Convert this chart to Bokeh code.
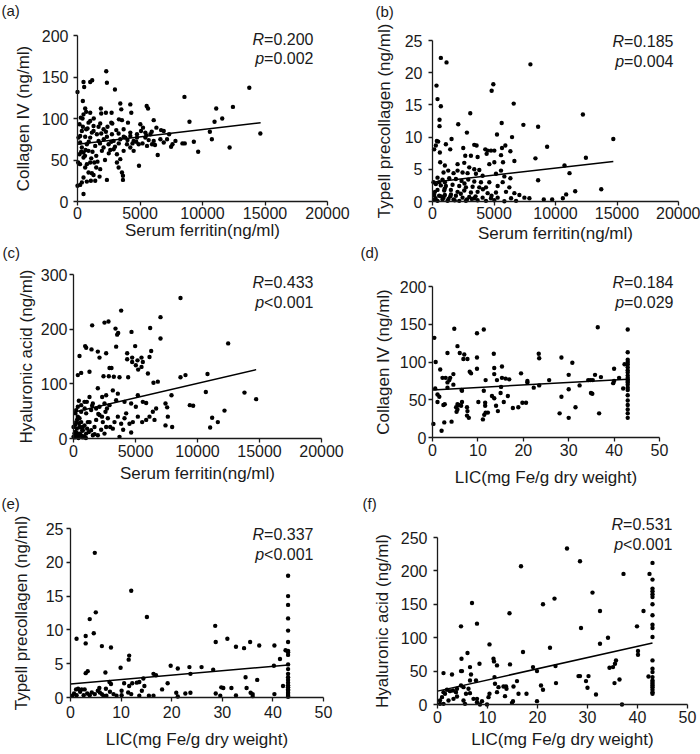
from bokeh.plotting import figure
from bokeh.models import Range1d, FixedTicker, Label
from bokeh.layouts import column, row
from bokeh.embed import file_html
from bokeh.resources import INLINE

# ---------------- data ----------------
# (a) Serum ferritin vs Collagen IV
a_ferritin = [2300, 2353, 481, 535, 1016, 1177, 0, 2995, 428, 615,
              695, 481, 1872, 1899, 2273, 2727, 3423, 3503, 4225, 4305,
              5535, 5642, 8557, 13744, 11097, 12434, 11578, 10963, 8958, 6097,
              3316, 3556, 4038, 2701, 2781, 1818, 1016, 882, 428, 348,
              695, 1284, 2086, 2273, 3102, 3690, 5027, 5241, 5081, 6311,
              6685, 5936, 7327, 10589, 14627, 10749, 7835, 8396, 8583, 9306,
              7487, 9653, 12167, 6418, 4920, 3690, 3155, 2620, 2086, 1417,
              749, 214, 80, 160, 53, 481, 749, 1016, 615, 1337,
              1497, 1818, 882, 1150, 1284, 1765, 481, 348, 749, 1070,
              1417, 2353, 0, 214, 481, 3155, 3289, 3556, 3637, 3637,
              3423, 4225, 4492, 4760, 4225, 3824, 3423, 2888, 2487, 1685,
              1016, 615, 5428, 5696, 6097, 6632, 5963, 5562, 4893, 4492,
              2888, 1952, 2353, 2754, 3289, 4225, 4760, 5428, 1551, 1150,
              214, 348, 882, 481, 160, 267, 1016, 1284, 1685, 3958,
              7166, 6899, 5829,
              300, 600, 900, 1200, 1500, 1800, 2100, 400, 800, 1300,
              200, 1600, 2500, 2700, 3000, 3300, 3700, 4000, 4400, 4700,
              5200, 5500, 6200, 6900, 7600, 650, 1100, 1900, 2200, 2400]
a_col4 = [157, 143, 144, 138, 144, 146, 132, 135, 121, 112,
          108, 105, 112, 106, 107, 107, 118, 111, 117, 107,
          115, 112, 126, 137, 112, 114, 100, 96, 96, 98,
          99, 98, 95, 95, 94, 94, 97, 95, 90, 85,
          87, 85, 87, 84, 86, 87, 93, 89, 85, 89,
          86, 84, 81, 84, 82, 75, 73, 70, 70, 72,
          66, 60, 65, 56, 43, 61, 57, 62, 65, 67,
          69, 71, 77, 57, 47, 53, 45, 47, 41, 47,
          41, 39, 35, 34, 32, 30, 29, 23, 24, 25,
          25, 26, 19, 20, 9, 47, 41, 35, 31, 26,
          51, 65, 73, 77, 79, 77, 75, 73, 69, 73,
          77, 78, 77, 74, 73, 75, 69, 67, 69, 61,
          63, 61, 78, 81, 82, 83, 81, 83, 81, 83,
          79, 65, 61, 59, 93, 101, 107, 91, 90, 69,
          75, 85, 81,
          60, 55, 72, 60, 55, 70, 75, 100, 88, 100,
          45, 48, 58, 72, 66, 70, 78, 74, 70, 72,
          70, 80, 68, 71, 69, 62, 52, 82, 50, 90]
a_fit_x = [0, 14650]
a_fit_y = [69, 95]

# (b) Serum ferritin vs Type III precollagen
b_ferritin = [679, 1141, 7961, 326, 4945, 4809, 408, 679, 571, 571,
              6602, 12227, 3070, 2092, 5624, 7390, 8586, 2798, 5244, 6467,
              353, 272, 462, 1087, 1549, 9319, 14699, 3396, 3586, 5923,
              5651, 4293, 4484, 4755, 5027, 598, 1440, 2500, 6331, 8369,
              12471, 2663, 3124, 3668, 4402, 5570, 6657, 625, 1005, 2038,
              2581, 2988, 3396, 3804, 4619, 5027, 5733, 5570, 10732, 11140,
              8586, 897, 1277, 1712, 2038, 2445, 2853, 3532, 4076, 5162,
              5842, 408, 815, 1359, 1902, 2364, 2907, 3396, 3940, 4619,
              5705, 6331, 272, 679, 1087, 1630, 2174, 2717, 3260, 3804,
              4347, 5298, 6249, 408, 951, 1494, 2038, 2581, 3124, 3668,
              4483, 5162, 5977, 6657, 7064, 11601, 13720, 10868, 136, 543,
              1005, 1440, 1902, 2445, 2988, 3396, 4076, 4755, 5298, 6386,
              7472, 7879, 9048, 9727, 10597, 136, 408, 815, 1223, 1712,
              2174, 2717, 3668, 4347, 5027, 5842, 6793, 82, 136, 543,
              1005,
              250, 700, 1300, 1800, 2300, 2800, 1000, 1500, 3500, 4100,
              4800, 200, 900, 2600, 3200]
b_pc3 = [22.3, 21.6, 21.3, 18.0, 18.2, 17.2, 15.9, 14.8, 12.7, 11.7,
         15.2, 13.5, 13.7, 12.0, 12.2, 11.9, 11.6, 10.7, 10.4, 10.0,
         9.4, 8.7, 9.3, 8.9, 9.7, 8.5, 9.7, 8.8, 8.7, 8.7,
         8.3, 8.1, 7.9, 7.9, 7.9, 7.6, 8.1, 8.3, 7.8, 6.7,
         6.8, 7.1, 7.1, 6.9, 7.4, 7.2, 6.3, 6.1, 5.6, 5.8,
         6.0, 5.3, 5.0, 4.9, 5.8, 6.1, 6.1, 4.8, 5.6, 4.4,
         3.3, 4.5, 4.8, 4.4, 4.8, 4.5, 4.4, 4.3, 4.0, 4.3,
         3.9, 3.7, 3.4, 3.6, 3.5, 3.2, 3.4, 3.1, 3.0, 3.0,
         3.0, 3.6, 2.7, 2.5, 2.4, 2.6, 2.4, 2.2, 2.3, 2.2,
         2.2, 2.4, 2.2, 1.8, 1.7, 1.8, 1.5, 1.7, 1.4, 1.5,
         1.3, 1.4, 1.5, 1.3, 1.0, 1.6, 1.9, 1.1, 1.0, 0.9,
         1.0, 0.8, 0.9, 0.6, 0.7, 0.5, 0.6, 0.5, 0.6, 0.5,
         0.6, 0.5, 0.3, 0.3, 0.5, 0.3, 0.1, 0.3, 0.1, 0.3,
         0.1, 0.1, 0.2, 0.1, 0.2, 0.05, 0.1, 3.0, 8.1, 3.0,
         3.0,
         0.5, 0.8, 0.4, 0.2, 1.2, 0.3, 2.0, 1.1, 0.8, 1.9,
         0.9, 1.5, 0.6, 2.8, 0.4]
b_fit_x = [0, 14700]
b_fit_y = [3.0, 6.2]

# (c) Serum ferritin vs Hyaluronic acid
c_ferritin = [8628, 3844, 7016, 7016, 1505, 2500, 2822, 3387, 3602, 3521,
              4677, 6183, 12472, 484, 941, 1021, 1452, 1962, 2097, 2634,
              3440, 4328, 4328, 4973, 4731, 4731, 5161, 5484, 5591, 5027,
              5215, 5484, 6264, 6129, 6000, 6451, 6800, 2903, 3064, 2419,
              2849, 3252, 3710, 4408, 618, 349, 1290, 8628, 9031, 10806,
              10672, 13790, 14731, 9381, 9650, 7903, 7419, 7553, 12177, 11182,
              11639, 11021, 7607, 7419, 7956, 6666, 6397, 6532, 6129, 5860,
              5537, 5188, 4785, 4516, 4650, 4113, 3844, 3575, 3306, 3710,
              3172, 2634, 2769, 2365, 2097, 1828, 1693, 2500, 1962, 1425,
              1559, 1021, 753, 484, 215, 349, 618, 887, 161, 269,
              484, 887, 1156, 618, 349, 161, 618, 1021, 1425, 1828,
              2097, 1559, 1075, 618, 349, 2312, 1962, 2634, 3172, 3575,
              4113, 4650, 5188, 5591, 5860, 5027, 3440, 2903, 2500, 1290,
              887, 430, 215, 0, 0, 80, 753, 1236, 2231, 2957,
              4005, 2580, 4247, 215, 484,
              100, 250, 400, 550, 700, 850, 1000, 150, 300, 450,
              600, 750, 1100, 1300, 1700, 2000, 2300, 2700, 1500, 900]
c_ha = [257, 234, 222, 183, 207, 212, 214, 201, 193, 190,
        195, 202, 174, 151, 169, 166, 163, 159, 148, 156,
        168, 156, 145, 169, 148, 140, 143, 148, 140, 134,
        126, 131, 160, 149, 119, 102, 104, 129, 129, 114,
        114, 113, 112, 112, 120, 116, 122, 112, 116, 118,
        85, 84, 72, 61, 60, 79, 64, 57, 51, 38,
        30, 20, 40, 24, 21, 55, 49, 34, 40, 34,
        30, 40, 30, 27, 11, 37, 27, 40, 30, 3,
        18, 21, 37, 30, 43, 34, 21, 9, 6, 15,
        6, 9, 15, 9, 6, 3, 5, 3, 12, 18,
        21, 24, 30, 30, 40, 46, 49, 46, 52, 55,
        58, 64, 67, 61, 58, 76, 92, 79, 88, 82,
        67, 64, 79, 67, 65, 58, 70, 61, 64, 76,
        67, 69, 52, 21, 3, 9, 21, 12, 16, 21,
        16, 49, 46, 30, 37,
        2, 10, 1, 8, 14, 4, 1, 25, 35, 28,
        20, 2, 18, 30, 8, 45, 40, 55, 60, 55]
c_fit_x = [0, 14730]
c_fit_y = [48, 126]

# (d) LIC vs Collagen IV
d_lic = [0.4, 0.7, 0.6, 0.2, 2.0, 1.7, 1.1, 1.5, 1.1, 2.2,
         2.9, 3.3, 3.3, 3.3, 3.7, 3.9, 2.6, 2.4, 2.7, 4.2,
         4.6, 4.8, 4.6, 5.5, 6.0, 7.0, 6.8, 7.7, 6.4, 6.5,
         5.5, 5.2, 5.5, 5.3, 5.8, 6.3, 6.5, 7.6, 7.7, 7.6,
         8.0, 8.2, 8.5, 9.8, 9.8, 9.8, 10.1, 11.3, 11.3, 11.1,
         11.7, 11.6, 11.6, 11.7, 12.2, 11.4, 13.5, 13.6, 13.6, 13.1,
         13.6, 14.2, 14.0, 14.4, 15.3, 15.3, 15.1, 15.0, 15.7, 16.1,
         16.9, 16.6, 17.7, 18.9, 19.5, 19.8, 20.6, 20.9, 20.9, 22.3,
         23.4, 23.5, 23.5, 25.7, 28.0, 28.4, 28.4, 30.0, 30.0, 30.0,
         30.8, 31.5, 32.4, 34.3, 34.8, 35.3, 34.9, 35.2, 35.8, 36.4,
         36.7, 37.1, 40.0, 40.0, 39.8, 41.1, 42.0, 42.3,
         43, 43, 43, 43, 43, 43, 43, 43, 43, 43, 43,
         43, 43, 43, 43, 43, 43, 43, 43, 43, 43, 43]
d_col4 = [132, 100, 65, 18, 9, 90, 57, 54, 47, 79,
          79, 73, 66, 112, 76, 79, 20, 43, 44, 21,
          84, 144, 70, 121, 112, 110, 104, 104, 63, 62,
          44, 40, 37, 34, 43, 42, 47, 40, 35, 29,
          26, 87, 85, 138, 106, 91, 47, 143, 62, 24,
          76, 46, 42, 33, 33, 30, 111, 92, 84, 55,
          52, 76, 42, 35, 94, 79, 67, 59, 47, 78,
          77, 55, 39, 40, 85, 46, 46, 73, 75, 66,
          111, 105, 69, 76, 32, 106, 54, 64, 26, 83,
          99, 40, 69, 76, 76, 76, 59, 58, 83, 146,
          32, 80, 91, 75, 72, 79, 65, 97,
          143, 113, 103, 100, 97, 93, 89, 86, 82, 79, 77,
          75, 73, 70, 66, 63, 56, 49, 43, 37, 32, 26]
d_fit_x = [0, 43]
d_fit_y = [63, 77]

# (e) LIC vs Type III precollagen
e_lic = [4.8, 12.0, 15.1, 5.0, 3.8, 4.6, 1.2, 3.0, 3.0, 6.2,
         8.0, 6.9, 3.0, 3.4, 11.6, 11.5, 9.9, 7.7, 8.0, 10.6,
         11.6, 12.2, 13.1, 13.6, 14.4, 14.6, 16.4, 16.9, 18.1, 19.2,
         19.8, 21.2, 23.5, 23.7, 25.9, 28.6, 28.7, 28.2, 31.0, 32.7,
         34.3, 35.5, 37.3, 40.3, 40.2, 41.4, 42.5, 34.6, 36.9, 29.8,
         30.2, 31.8, 34.8, 35.6, 36.0, 28.7, 32.7, 36.0, 40.3, 20.9,
         22.7, 23.7, 21.2, 16.4, 15.5, 13.6, 12.0, 10.1, 10.1, 8.5,
         7.8, 7.0, 6.5, 5.8, 5.7, 5.4, 4.8, 4.2, 3.3, 2.6,
         2.2, 1.9, 1.5, 1.1, 0.7, 0.4, 1.2, 2.8, 3.8, 6.2,
         7.1, 9.1, 11.4, 14.1, 29.6, 42.0,
         43, 43, 43, 43, 43, 43, 43, 43, 43, 43, 43, 43,
         43, 43, 43, 43, 43, 43, 43, 43, 43, 43, 43]
e_pc3 = [21.4, 15.8, 11.9, 12.6, 11.6, 9.5, 8.7, 9.1, 8.0, 7.6,
         7.4, 3.7, 3.6, 3.9, 6.2, 5.6, 4.4, 2.3, 2.0, 2.1,
         1.7, 2.1, 2.2, 2.3, 2.8, 1.7, 3.5, 3.3, 1.2, 2.1,
         4.7, 4.3, 4.5, 3.5, 4.5, 10.6, 8.2, 4.1, 8.7, 7.5,
         7.3, 8.2, 7.7, 7.7, 4.7, 5.7, 7.0, 3.0, 2.6, 1.5,
         1.4, 1.4, 1.4, 0.7, 0.5, 0.6, 0.3, 0.2, 0.5, 0.7,
         0.6, 0.7, 0.15, 0.25, 0.25, 0.25, 0.5, 1.0, 0.35, 0.5,
         0.85, 1.3, 0.25, 0.75, 1.4, 1.0, 0.5, 0.75, 0.6, 0.35,
         1.2, 0.85, 1.3, 1.2, 0.6, 0.25, 0.35, 1.2, 0.35, 0.5,
         0.25, 0.25, 0.75, 1.0, 0.25, 1.7,
         18.0, 15.0, 13.7, 11.7, 9.9, 8.2, 6.9, 6.7, 6.3, 4.9, 4.2, 3.5,
         3.0, 2.6, 2.2, 1.8, 1.5, 1.2, 1.0, 0.7, 0.5, 0.25, 0.1]
e_fit_x = [0, 43]
e_fit_y = [2.0, 4.8]

# (f) LIC vs Hyaluronic acid
f_lic = [25.9, 16.7, 28.5, 37.2, 42.4, 31.0, 23.4, 21.1, 6.9, 14.4,
         41.2, 32.5, 7.9, 4.7, 28.7, 39.9, 34.1, 32.5, 22.5, 10.4,
         40.1, 40.1, 17.1, 6.0, 4.8, 11.2, 11.3, 11.9, 8.4, 6.5,
         4.7, 4.9, 6.7, 14.5, 19.1, 19.9, 23.6, 35.7, 35.1, 34.4,
         35.5, 28.2, 28.5, 30.2, 29.7, 30.0, 31.7, 35.4, 36.4, 42.2,
         23.7, 20.7, 21.1, 17.8, 19.9, 36.9, 16.2, 15.1, 14.9, 15.2,
         13.8, 13.5, 13.7, 13.2, 12.2, 11.9, 11.5, 11.4, 10.4, 10.2,
         9.9, 8.5, 7.9, 7.2, 7.9, 7.7, 6.5, 6.2, 6.5, 5.7,
         5.2, 4.7, 3.9, 3.7, 3.1, 2.5, 1.9, 1.5, 1.2, 1.2,
         2.9, 0.9, 0.5, 0.5, 1.2, 2.2, 3.2, 3.9, 5.2, 5.5,
         8.9, 15.9,
         43, 43, 43, 43, 43, 43, 43, 43, 43, 43, 43, 43,
         43, 43, 43, 43, 43, 43, 43, 43, 43, 43, 43]
f_ha = [233.5, 207, 214.5, 195.5, 195.5, 167.5, 158.5, 150, 152, 136.5,
        140, 140, 121, 117, 114.5, 117, 100, 91, 85, 90,
        80, 74.5, 78.5, 77, 68.5, 68.5, 64.5, 58.5, 61, 56,
        50, 50, 45, 60, 56, 50, 57.5, 66, 56, 55,
        61, 42.5, 42.5, 42.5, 35, 25, 15, 32, 37.5, 42,
        32, 28.5, 22, 16, 5, 0, 16, 5, 2.5, 27,
        23.5, 12.5, 27, 27, 26, 18.5, 31, 41, 16, 11,
        0, 0, 3.5, 8.5, 8.5, 36, 36, 23.5, 17, 16,
        26, 28.5, 23.5, 18.5, 21, 20, 22, 16, 18.5, 47,
        45, 11, 6, 1, 1, 6, 8.5, 12, 6, 1,
        5, 35,
        212, 187, 173.5, 169.5, 165, 161, 150, 133.5, 119.5, 114.5, 101, 66,
        53.5, 48.5, 41, 36, 33.5, 31, 28.5, 26, 22, 18.5, 16]
f_fit_x = [0, 43]
f_fit_y = [20, 92]

ferritin_ticks = [0, 5000, 10000, 15000, 20000]
lic_ticks = [0, 10, 20, 30, 40, 50]
col4_ticks = [0, 50, 100, 150, 200]
pc3_ticks = [0, 5, 10, 15, 20, 25]
ha_ticks_c = [0, 100, 200, 300]
ha_ticks_f = [0, 50, 100, 150, 200, 250]

# ---------------- styling / layout ----------------
FONT = "Liberation Sans"
INK = "#1a1a1a"
TICK_FS = "16px"
LABEL_FS = "17px"
ANNOT_FS = 16
PANEL_FS = "15px"

# cell = (x0, y0, w, h) on the page; frame = (left, right, top, bottom) in cell pixels
# tag = (left x, centre y) and stats = (right x, R centre y, p centre y) on the page
panels = [
    dict(tag="(a)", x=a_ferritin, y=a_col4, fx=a_fit_x, fy=a_fit_y,
         xr=(0, 20000), yr=(0, 200), xt=ferritin_ticks, yt=col4_ticks,
         xlabel="Serum ferritin(ng/ml)", ylabel="Collagen IV (ng/ml)",
         r="=0.200", p="=0.002",
         cell=(0, 0, 350, 244), frame=(77, 327, 35, 201),
         xts=1, xls=-1, yts=5, yls=6,
         tag_at=(1, 10), stats_at=(313, 39, 58)),
    dict(tag="(b)", x=b_ferritin, y=b_pc3, fx=b_fit_x, fy=b_fit_y,
         xr=(0, 20000), yr=(0, 25), xt=ferritin_ticks, yt=pc3_ticks,
         xlabel="Serum ferritin(ng/ml)", ylabel="Typell precollagen (ng/ml)",
         r="=0.185", p="=0.004",
         cell=(350, 0, 350, 244), frame=(82, 328, 40, 201),
         xts=1, xls=2, yts=6, yls=8,
         tag_at=(375, 11), stats_at=(673, 41, 61)),
    dict(tag="(c)", x=c_ferritin, y=c_ha, fx=c_fit_x, fy=c_fit_y,
         xr=(0, 20000), yr=(0, 300), xt=ferritin_ticks, yt=ha_ticks_c,
         xlabel="Serum ferritin(ng/ml)", ylabel="Hyaluronic acid (ng/ml)",
         r="=0.433", p="<0.001",
         cell=(0, 244, 350, 250), frame=(73, 321, 30, 194),
         xts=2, xls=4, yts=2, yls=2,
         tag_at=(2, 252), stats_at=(313, 282, 302)),
    dict(tag="(d)", x=d_lic, y=d_col4, fx=d_fit_x, fy=d_fit_y,
         xr=(0, 50), yr=(0, 200), xt=lic_ticks, yt=col4_ticks,
         xlabel="LIC(mg Fe/g dry weight)", ylabel="Collagen IV (ng/ml)",
         r="=0.184", p="=0.029",
         cell=(350, 244, 350, 250), frame=(82, 309, 42, 193),
         xts=2, xls=9, yts=2, yls=4,
         tag_at=(360, 252), stats_at=(673, 282, 302)),
    dict(tag="(e)", x=e_lic, y=e_pc3, fx=e_fit_x, fy=e_fit_y,
         xr=(0, 50), yr=(0, 25), xt=lic_ticks, yt=pc3_ticks,
         xlabel="LIC(mg Fe/g dry weight)", ylabel="Typell precollagen (ng/ml)",
         r="=0.337", p="<0.001",
         cell=(0, 494, 350, 260), frame=(70, 323, 34, 203),
         xts=4, xls=9, yts=3, yls=12,
         tag_at=(1, 503), stats_at=(313, 534, 554)),
    dict(tag="(f)", x=f_lic, y=f_ha, fx=f_fit_x, fy=f_fit_y,
         xr=(0, 50), yr=(0, 250), xt=lic_ticks, yt=ha_ticks_f,
         xlabel="LIC(mg Fe/g dry weight)", ylabel="Hyaluronic acid (ng/ml)",
         r="=0.531", p="<0.001",
         cell=(350, 494, 350, 260), frame=(87, 337, 43, 210),
         xts=2, xls=4, yts=6, yls=6,
         tag_at=(362, 503), stats_at=(672, 524, 544)),
]


def make_panel(cfg):
    cx, cy, w, h = cfg["cell"]
    L, R, T, B = cfg["frame"]
    x0, x1 = cfg["xr"]
    y0, y1 = cfg["yr"]
    # the plotting area fills the whole cell; the axes sit at x=0 / y=0 with
    # their lines bounded to the data extent, so labels outside are not clipped
    sx = (x1 - x0) / (R - L)
    sy = (y1 - y0) / (B - T)
    xrng = Range1d(x0 - L * sx, x1 + (w - R) * sx)
    yrng = Range1d(y0 - (h - B) * sy, y1 + T * sy)

    p = figure(width=w, height=h, x_range=xrng, y_range=yrng, title=None,
               output_backend="svg", toolbar_location=None, tools="",
               min_border=0)
    p.outline_line_color = None
    p.grid.visible = False
    p.background_fill_color = "white"
    p.border_fill_color = "white"

    for ax, ticks, bnds in ((p.xaxis, cfg["xt"], cfg["xr"]), (p.yaxis, cfg["yt"], cfg["yr"])):
        ax.fixed_location = 0
        ax.bounds = bnds
        ax.ticker = FixedTicker(ticks=ticks)
        ax.major_tick_out = 4
        ax.major_tick_in = 0
        ax.minor_tick_out = 0
        ax.minor_tick_in = 0
        ax.axis_line_width = 1.3
        ax.axis_line_color = INK
        ax.major_tick_line_color = INK
        ax.major_tick_line_width = 1.3
        ax.major_label_text_font = FONT
        ax.major_label_text_font_size = TICK_FS
        ax.major_label_text_color = INK
        ax.axis_label_text_font = FONT
        ax.axis_label_text_font_size = LABEL_FS
        ax.axis_label_text_font_style = "normal"
        ax.axis_label_text_color = INK
    p.xaxis.axis_label = cfg["xlabel"]
    p.yaxis.axis_label = cfg["ylabel"]
    p.xaxis.major_label_standoff = cfg["xts"]
    p.xaxis.axis_label_standoff = cfg["xls"]
    p.yaxis.major_label_standoff = cfg["yts"]
    p.yaxis.axis_label_standoff = cfg["yls"]

    p.scatter(cfg["x"], cfg["y"], size=4.4, color="black", line_color=None)
    p.line(cfg["fx"], cfg["fy"], line_color="black", line_width=1.5)

    def at(px, py):
        # page pixel -> screen units of this plot (from bottom-left)
        return px - cx, cy + h - py

    tx, ty = at(*cfg["tag_at"])
    p.add_layout(Label(x=tx, y=ty, x_units="screen", y_units="screen",
                       text=cfg["tag"], text_font=FONT, text_font_size=PANEL_FS,
                       text_color=INK, text_align="left", text_baseline="middle"))

    rx_page, ry_page, py_page = cfg["stats_at"]
    tail_w = 3.086 * ANNOT_FS  # width of "=0.xxx" in Arial metrics
    for letter, tail, yy in (("R", cfg["r"], ry_page), ("p", cfg["p"], py_page)):
        lx, ly = at(rx_page, yy)
        p.add_layout(Label(x=lx, y=ly, x_units="screen", y_units="screen",
                           text=tail, text_font=FONT, text_font_size=f"{ANNOT_FS}px",
                           text_color=INK, text_align="right", text_baseline="middle"))
        p.add_layout(Label(x=lx - tail_w, y=ly, x_units="screen", y_units="screen",
                           text=letter, text_font=FONT, text_font_size=f"{ANNOT_FS}px",
                           text_font_style="italic",
                           text_color=INK, text_align="right", text_baseline="middle"))
    return p


figs = [make_panel(c) for c in panels]
cells = [column(f) for f in figs]
layout = column(row(cells[0], cells[1]), row(cells[2], cells[3]), row(cells[4], cells[5]))

open("out.html", "w").write(file_html(layout, INLINE, title="Scatter panels"))
